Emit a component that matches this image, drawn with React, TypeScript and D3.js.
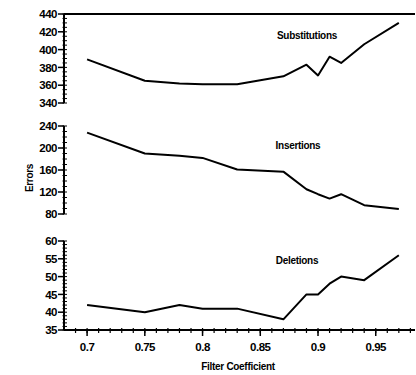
import React from 'react';
import * as d3 from 'd3';

const coeffs = [0.7, 0.75, 0.78, 0.8, 0.83, 0.87, 0.89, 0.9, 0.91, 0.92, 0.94, 0.97];
const substitutions = [389, 365, 362, 361, 361, 370, 383, 371, 392, 385, 406, 430];
const insertions = [228, 190, 186, 182, 161, 157, 125, 116, 108, 116, 96, 89];
const deletions = [42, 40, 42, 41, 41, 38, 45, 45, 48, 50, 49, 56];

const xTicks = [0.7, 0.75, 0.8, 0.85, 0.9, 0.95];

const panels = [
  { name: 'Substitutions', values: substitutions, domain: [340, 440], ticks: [340, 360, 380, 400, 420, 440], minor: 5, top: 14, bottom: 103, labelX: 307, labelY: 39 },
  { name: 'Insertions', values: insertions, domain: [80, 240], ticks: [80, 120, 160, 200, 240], minor: 10, top: 126, bottom: 214, labelX: 298, labelY: 149 },
  { name: 'Deletions', values: deletions, domain: [35, 60], ticks: [35, 40, 45, 50, 55, 60], minor: 1, top: 241, bottom: 330, labelX: 297, labelY: 264 },
];

const W = 416;
const H = 375;
const left = 64;
const right = 415;
const font = 'Liberation Sans, Arial, sans-serif';

export default function App() {
  const x = d3.scaleLinear().domain([0.68, 0.984]).range([left, right]);
  const minorX = d3.range(0.69, 0.985, 0.01);
  const axisY = panels[2].bottom;

  return (
    <svg width={W} height={H} style={{ position: 'absolute', left: 0, top: 0, background: '#fff' }}>
      {panels.map((p) => {
        const y = d3.scaleLinear().domain(p.domain).range([p.bottom, p.top]);
        const line = d3.line<number>()
          .x((_, i) => x(coeffs[i]))
          .y((d) => y(d));
        const minorTicks = d3.range(p.domain[0], p.domain[1] + 0.001, p.minor);
        return (
          <g key={p.name}>
            <line x1={left} x2={left} y1={p.top} y2={p.bottom} stroke="#000" strokeWidth={2} />
            {minorTicks.map((t) => (
              <line key={t} x1={left - 1.5} x2={left + 3} y1={y(t)} y2={y(t)} stroke="#000" strokeWidth={1} />
            ))}
            {p.ticks.map((t) => (
              <g key={t}>
                <line x1={left - 6} x2={left} y1={y(t)} y2={y(t)} stroke="#000" strokeWidth={1.5} />
                <text x={left - 7} y={y(t)} dy="0.36em" textAnchor="end" fontFamily={font} fontWeight="bold" fontSize={11.5} letterSpacing={-0.5}>
                  {t}
                </text>
              </g>
            ))}
            <path d={line(p.values) || ''} fill="none" stroke="#000" strokeWidth={2} strokeLinejoin="round" />
            <text x={p.labelX} y={p.labelY} textAnchor="middle" fontFamily={font} fontWeight="bold" fontSize={10} letterSpacing={-0.3}>
              {p.name}
            </text>
          </g>
        );
      })}
      {/* top frame line */}
      <line x1={left} x2={right} y1={panels[0].top} y2={panels[0].top} stroke="#000" strokeWidth={2} />
      {/* x axis */}
      <line x1={left} x2={right} y1={axisY} y2={axisY} stroke="#000" strokeWidth={2} />
      {minorX.map((t) => (
        <line key={t} x1={x(t)} x2={x(t)} y1={axisY - 2} y2={axisY + 3} stroke="#000" strokeWidth={1.2} />
      ))}
      {xTicks.map((t) => (
        <g key={t}>
          <line x1={x(t)} x2={x(t)} y1={axisY} y2={axisY + 6} stroke="#000" strokeWidth={1.5} />
          <text x={x(t)} y={axisY + 21} textAnchor="middle" fontFamily={font} fontWeight="bold" fontSize={11.5} letterSpacing={-0.5}>
            {t}
          </text>
        </g>
      ))}
      <text x={238} y={370} textAnchor="middle" fontFamily={font} fontWeight="bold" fontSize={10} letterSpacing={-0.3}>
        Filter Coefficient
      </text>
      <text transform="translate(33,178) rotate(-90)" textAnchor="middle" fontFamily={font} fontWeight="bold" fontSize={10} letterSpacing={-0.3}>
        Errors
      </text>
    </svg>
  );
}
